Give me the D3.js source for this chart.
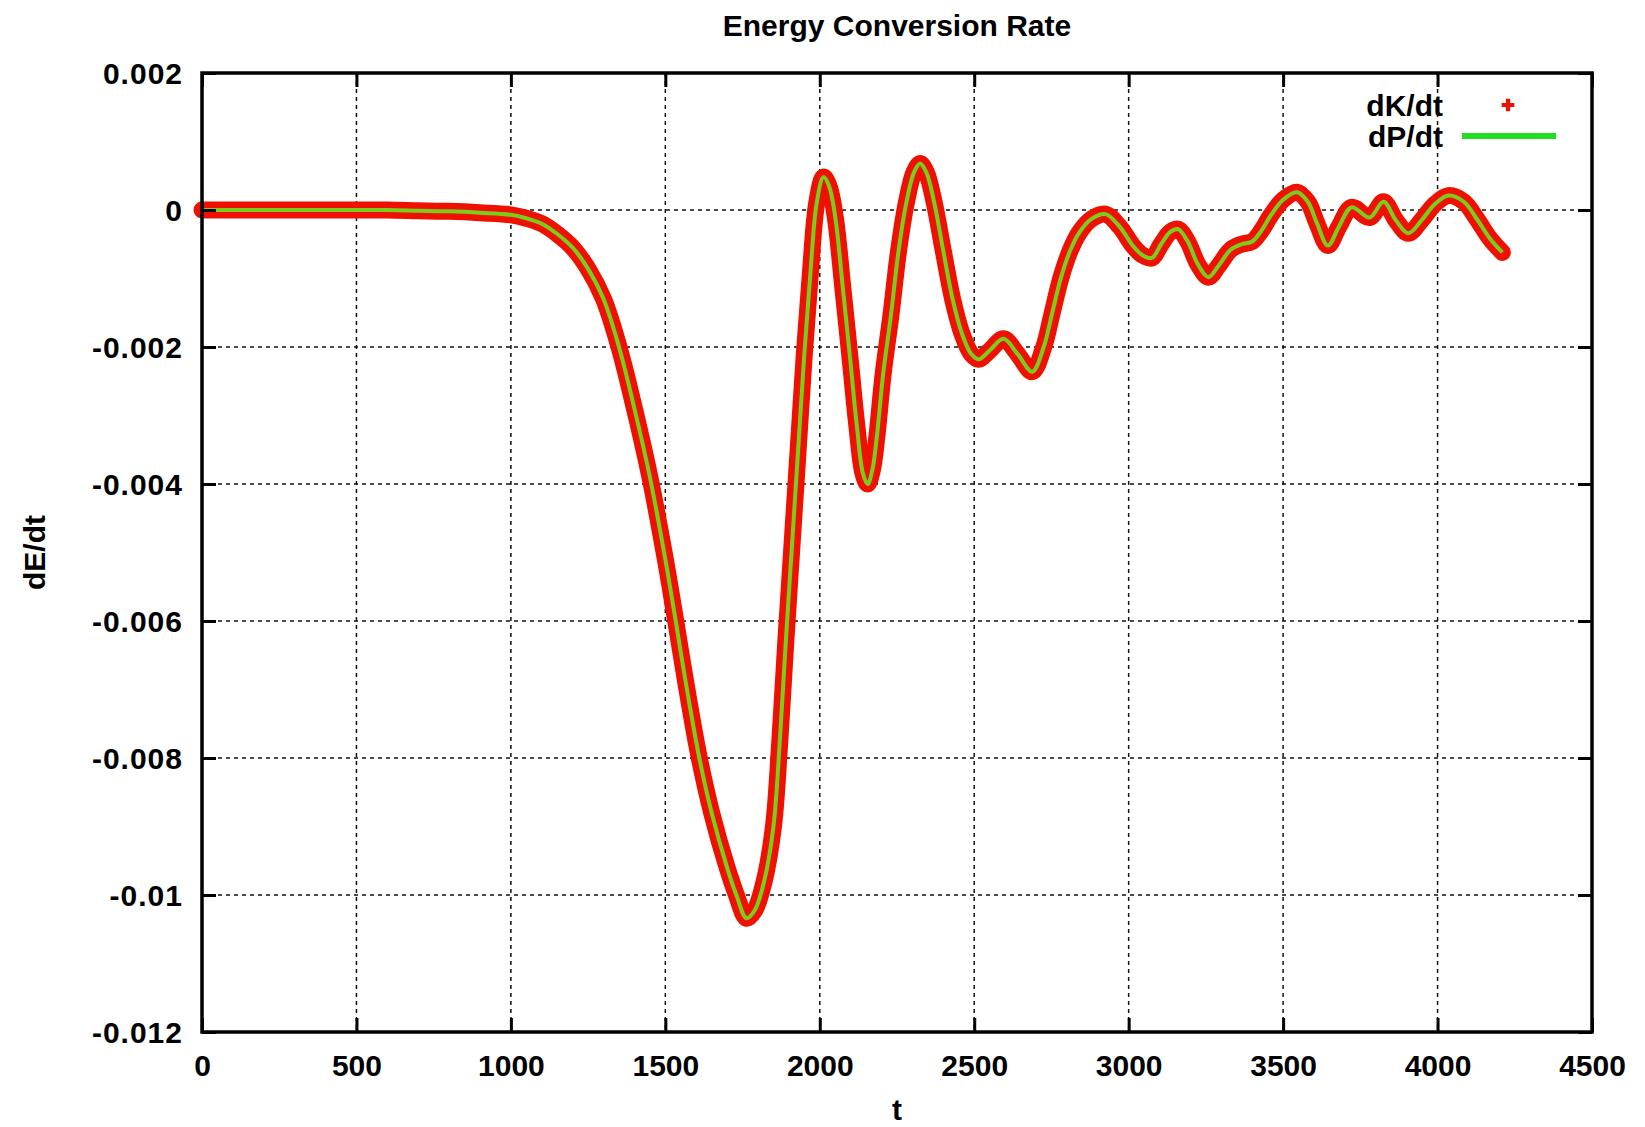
<!DOCTYPE html>
<html><head><meta charset="utf-8">
<script src="https://cdn.jsdelivr.net/npm/d3@7"></script>
<style>
body{margin:0;background:#fff;}
text{font-family:"Liberation Sans",Arial,sans-serif;font-weight:bold;fill:#000;}
</style>
</head><body><svg id="c" width="1645" height="1127"></svg>
<script>
const title = "Energy Conversion Rate";
const xLabel = "t";
const yLabel = "dE/dt";
const seriesNames = ["dK/dt", "dP/dt"];
const xTicks = [0, 500, 1000, 1500, 2000, 2500, 3000, 3500, 4000, 4500];
const xTickLabels = ["0", "500", "1000", "1500", "2000", "2500", "3000", "3500", "4000", "4500"];
const yTicks = [0.002, 0, -0.002, -0.004, -0.006, -0.008, -0.01, -0.012];
const yTickLabels = ["0.002", "0", "-0.002", "-0.004", "-0.006", "-0.008", "-0.01", "-0.012"];

const tValues = [0, 200, 400, 600, 700, 800, 900, 1000, 1050, 1100, 1150, 1200, 1250, 1300, 1350, 1400, 1450, 1500, 1530, 1570, 1610, 1650, 1700, 1730, 1763, 1790, 1820, 1850, 1870, 1890, 1910, 1930, 1950, 1970, 1990, 2012, 2030, 2050, 2075, 2100, 2120, 2140, 2155, 2170, 2185, 2205, 2230, 2255, 2280, 2305, 2325, 2345, 2370, 2400, 2430, 2460, 2490, 2515, 2550, 2595, 2640, 2688, 2725, 2750, 2780, 2810, 2840, 2880, 2925, 2970, 3015, 3045, 3075, 3105, 3135, 3160, 3190, 3225, 3258, 3290, 3330, 3365, 3400, 3430, 3460, 3500, 3545, 3580, 3610, 3645, 3680, 3722, 3780, 3825, 3865, 3905, 3950, 3990, 4035, 4085, 4130, 4170, 4210];

const dKdt = [0, 0, 0, 0, -0.00001, -0.00002, -0.00004, -0.00007, -0.00012, -0.0002, -0.00035, -0.00055, -0.00086, -0.0013, -0.002, -0.0029, -0.0039, -0.0051, -0.0059, -0.007, -0.008, -0.0088, -0.0096, -0.01, -0.01034, -0.01022, -0.0098, -0.009, -0.0078, -0.0063, -0.0049, -0.0035, -0.0021, -0.0009, 0.0001, 0.00048, 0.00035, -0.0001, -0.00115, -0.00225, -0.00315, -0.00385, -0.004, -0.0038, -0.0033, -0.0024, -0.00155, -0.0006, 0.0001, 0.00055, 0.00068, 0.00055, 0.00012, -0.0006, -0.0013, -0.0018, -0.0021, -0.00218, -0.00205, -0.00188, -0.0021, -0.00236, -0.002, -0.00155, -0.001, -0.0006, -0.00033, -0.00013, -0.00006, -0.00024, -0.00053, -0.00066, -0.0007, -0.0005, -0.00032, -0.00028, -0.00045, -0.0008, -0.00098, -0.00082, -0.00058, -0.0005, -0.00046, -0.0003, -0.00008, 0.00015, 0.00026, 0.00012, -0.0002, -0.00052, -0.00025, 0.00004, -0.00011, 0.00012, -0.00015, -0.00034, -0.00014, 0.00008, 0.00021, 0.00012, -0.00015, -0.00042, -0.00062];

const dPdt = [0, 0, 0, 0, -0.00001, -0.00002, -0.00004, -0.00007, -0.00012, -0.0002, -0.00035, -0.00055, -0.00086, -0.0013, -0.002, -0.0029, -0.0039, -0.0051, -0.0059, -0.007, -0.008, -0.0088, -0.0096, -0.01, -0.01034, -0.01022, -0.0098, -0.009, -0.0078, -0.0063, -0.0049, -0.0035, -0.0021, -0.0009, 0.0001, 0.00048, 0.00035, -0.0001, -0.00115, -0.00225, -0.00315, -0.00385, -0.004, -0.0038, -0.0033, -0.0024, -0.00155, -0.0006, 0.0001, 0.00055, 0.00068, 0.00055, 0.00012, -0.0006, -0.0013, -0.0018, -0.0021, -0.00218, -0.00205, -0.00188, -0.0021, -0.00236, -0.002, -0.00155, -0.001, -0.0006, -0.00033, -0.00013, -0.00006, -0.00024, -0.00053, -0.00066, -0.0007, -0.0005, -0.00032, -0.00028, -0.00045, -0.0008, -0.00098, -0.00082, -0.00058, -0.0005, -0.00046, -0.0003, -0.00008, 0.00015, 0.00026, 0.00012, -0.0002, -0.00052, -0.00025, 0.00004, -0.00011, 0.00012, -0.00015, -0.00034, -0.00014, 0.00008, 0.00021, 0.00012, -0.00015, -0.00042, -0.00062];

const svg = d3.select("#c");
const L = 202, T = 73, R = 1592, B = 1032;
const x = d3.scaleLinear().domain([0, 4500]).range([L, R]);
const y = d3.scaleLinear().domain([-0.012, 0.002]).range([B, T]);

// grid
const grid = svg.append("g").attr("stroke", "#111").attr("stroke-width", 1.5).attr("stroke-dasharray", "4,4");
xTicks.slice(1, -1).forEach(v => grid.append("line").attr("x1", x(v)).attr("x2", x(v)).attr("y1", T).attr("y2", B));
yTicks.slice(1, -1).forEach(v => grid.append("line").attr("x1", L).attr("x2", R).attr("y1", y(v)).attr("y2", y(v)));

// data
const dk = tValues.map((t, i) => [t, dKdt[i]]);
const dp = tValues.map((t, i) => [t, dPdt[i]]);
const line = d3.line().x(d => x(d[0])).y(d => y(d[1])).curve(d3.curveCatmullRom.alpha(0.5));
svg.append("path").datum(dk).attr("d", line).attr("fill", "none")
  .attr("stroke", "#ee1100").attr("stroke-width", 17).attr("stroke-linejoin", "round").attr("stroke-linecap", "round");
svg.append("path").datum(dp).attr("d", line).attr("fill", "none")
  .attr("stroke", "#7ccc1c").attr("stroke-width", 4).attr("stroke-linejoin", "round");

// border
svg.append("rect").attr("x", L).attr("y", T).attr("width", R - L).attr("height", B - T)
  .attr("fill", "none").attr("stroke", "#000").attr("stroke-width", 3.5);

// axes with inward ticks (gnuplot style, mirrored)
const tk = 14;
const xb = d3.axisBottom(x).tickValues(xTicks).tickFormat((d, i) => xTickLabels[i]).tickSize(-tk).tickPadding(23);
const gx = svg.append("g").attr("transform", `translate(0,${B})`).call(xb);
const xt = d3.axisTop(x).tickValues(xTicks).tickFormat("").tickSize(-tk);
const gxt = svg.append("g").attr("transform", `translate(0,${T})`).call(xt);
const yl = d3.axisLeft(y).tickValues(yTicks).tickFormat((d, i) => yTickLabels[i]).tickSize(-tk).tickPadding(19);
const gy = svg.append("g").attr("transform", `translate(${L},0)`).call(yl);
const yr = d3.axisRight(y).tickValues(yTicks).tickFormat("").tickSize(-tk);
const gyr = svg.append("g").attr("transform", `translate(${R},0)`).call(yr);
[gx, gxt, gy, gyr].forEach(g => {
  g.select(".domain").remove();
  g.selectAll(".tick line").attr("stroke", "#000").attr("stroke-width", 3);
  g.selectAll("text").attr("font-size", 30).attr("font-family", "'Liberation Sans', Arial, sans-serif").attr("font-weight", "bold").attr("fill", "#000");
});
gx.selectAll("text").attr("dy", "0.71em");
gy.selectAll("text").attr("dy", "0.36em").attr("letter-spacing", 1);

// titles
svg.append("text").attr("x", (L + R) / 2).attr("y", 36).attr("text-anchor", "middle").attr("font-size", 30).text(title);
svg.append("text").attr("x", (L + R) / 2).attr("y", 1120).attr("text-anchor", "middle").attr("font-size", 30).text(xLabel);
svg.append("text").attr("transform", `translate(45,${(T + B) / 2}) rotate(-90)`).attr("text-anchor", "middle").attr("font-size", 30).text(yLabel);

// legend
const lg = svg.append("g");
lg.append("text").attr("x", 1443).attr("y", 105).attr("dy", "0.36em").attr("text-anchor", "end").attr("font-size", 30).text(seriesNames[0]);
lg.append("text").attr("x", 1443).attr("y", 136).attr("dy", "0.36em").attr("text-anchor", "end").attr("font-size", 30).text(seriesNames[1]);
lg.append("path").attr("d", d3.symbol().type(d3.symbolCross).size(90)()).attr("transform", "translate(1508,105)").attr("fill", "#ee1100");
lg.append("line").attr("x1", 1462).attr("x2", 1556).attr("y1", 136).attr("y2", 136).attr("stroke", "#22dd22").attr("stroke-width", 6);
</script>
</body></html>
